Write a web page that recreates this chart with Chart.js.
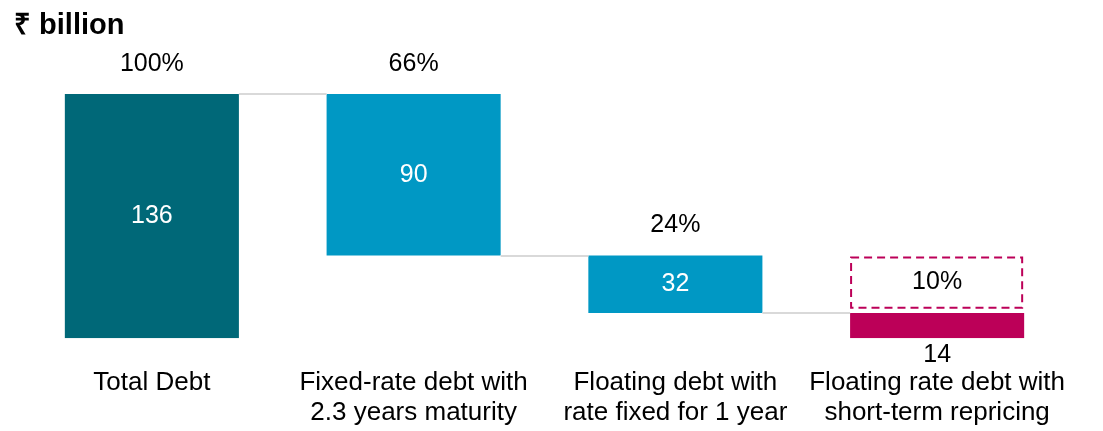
<!DOCTYPE html>
<html>
<head>
<meta charset="utf-8">
<title>Debt profile</title>
<script src="https://cdn.jsdelivr.net/npm/chart.js@4.4.1/dist/chart.umd.min.js"></script>
<style>
    html, body { margin: 0; padding: 0; background: #fff; }
    #chart-wrap { width: 1103px; height: 431px; }
</style>
</head>
<body>
<div id="chart-wrap"><canvas id="debt-chart" width="1103" height="431"></canvas></div>
<script>
// --- Data ---
const categories = [
    ['Total Debt'],
    ['Fixed-rate debt with', '2.3 years maturity'],
    ['Floating debt with', 'rate fixed for 1 year'],
    ['Floating rate debt with', 'short-term repricing']
];
const amounts = [136, 90, 32, 14];              // ₹ billion
const shares = ['100%', '66%', '24%', '10%'];
const calloutRange = [17, 45];                  // dashed box over the last bar
const unitTitle = '₹ billion';

const barColors = ['#006878', '#0098c4', '#0098c4', '#bc0058'];
const FONT = '"Liberation Sans", Arial, sans-serif';

document.addEventListener('DOMContentLoaded', () => {
    // Waterfall: first bar is the total, the rest hang down from it
    const ranges = amounts.map((v, i) => {
        if (i === 0) return [0, v];
        const top = amounts[0] - amounts.slice(1, i).reduce((a, b) => a + b, 0);
        return [top - v, top];
    });

    // --- Connectors, call-out box and labels ---
    const waterfallExtras = {
        id: 'waterfallExtras',
        afterDatasetsDraw(chart) {
            const ctx = chart.ctx;
            const yScale = chart.scales.y;
            const bars = chart.getDatasetMeta(0).data;
            const box = chart.getDatasetMeta(1).data[3];

            ctx.save();

            // grey connector lines between bars
            ctx.strokeStyle = '#d9d9d9';
            ctx.lineWidth = 2;
            for (let i = 0; i < bars.length - 1; i++) {
                const a = bars[i].getProps(['x', 'width'], true);
                const b = bars[i + 1].getProps(['x', 'width'], true);
                const y = Math.round(yScale.getPixelForValue(ranges[i + 1][1]));
                ctx.beginPath();
                ctx.moveTo(a.x + a.width / 2, y);
                ctx.lineTo(b.x - b.width / 2, y);
                ctx.stroke();
            }

            // dashed call-out box
            const bp = box.getProps(['x', 'y', 'base', 'width'], true);
            ctx.strokeStyle = barColors[3];
            ctx.lineWidth = 2;
            ctx.setLineDash([8, 5]);
            ctx.strokeRect(bp.x - bp.width / 2 + 1, bp.y, bp.width - 3, bp.base - bp.y);
            ctx.setLineDash([]);

            // labels
            ctx.font = `25px ${FONT}`;
            ctx.textAlign = 'center';
            ctx.textBaseline = 'middle';
            bars.forEach((bar, i) => {
                const p = bar.getProps(['x', 'y', 'base'], true);
                if (i < 3) {
                    ctx.fillStyle = '#000';
                    ctx.fillText(shares[i], p.x, p.y - 30);
                    ctx.fillStyle = '#fff';
                    ctx.fillText(String(amounts[i]), p.x, (p.y + p.base) / 2);
                } else {
                    ctx.fillStyle = '#000';
                    ctx.fillText(shares[i], bp.x, (bp.y + bp.base) / 2);
                    ctx.fillText(String(amounts[i]), p.x, p.base + 17);
                }
            });

            // unit title
            ctx.font = `bold 29px ${FONT}`;
            ctx.textAlign = 'left';
            ctx.textBaseline = 'alphabetic';
            ctx.fillText(unitTitle, 14, 34);

            ctx.restore();
        }
    };

    const chartCtx = document.getElementById('debt-chart').getContext('2d');
    new Chart(chartCtx, {
        type: 'bar',
        data: {
            labels: categories,
            datasets: [{
                label: 'Debt',
                data: ranges,
                backgroundColor: barColors,
                borderWidth: 0,
                grouped: false,
                barPercentage: 0.665,
                categoryPercentage: 1
            }, {
                label: 'Call-out',
                data: [null, null, null, calloutRange],
                backgroundColor: 'rgba(0,0,0,0)',
                borderWidth: 0,
                grouped: false,
                barPercentage: 0.665,
                categoryPercentage: 1
            }]
        },
        options: {
            responsive: false,
            animation: false,
            layout: { padding: { top: 15, left: 21, right: 35, bottom: -27 } },
            plugins: {
                legend: { display: false },
                tooltip: { enabled: false }
            },
            scales: {
                x: {
                    grid: { display: false, drawTicks: false },
                    border: { display: false },
                    ticks: {
                        color: '#000',
                        padding: 30,
                        maxRotation: 0,
                        autoSkip: false,
                        font: { family: FONT, size: 26, lineHeight: 1.15 }
                    }
                },
                y: { display: false, min: 0, max: 180 }
            }
        },
        plugins: [waterfallExtras]
    });
});
</script>
</body>
</html>
